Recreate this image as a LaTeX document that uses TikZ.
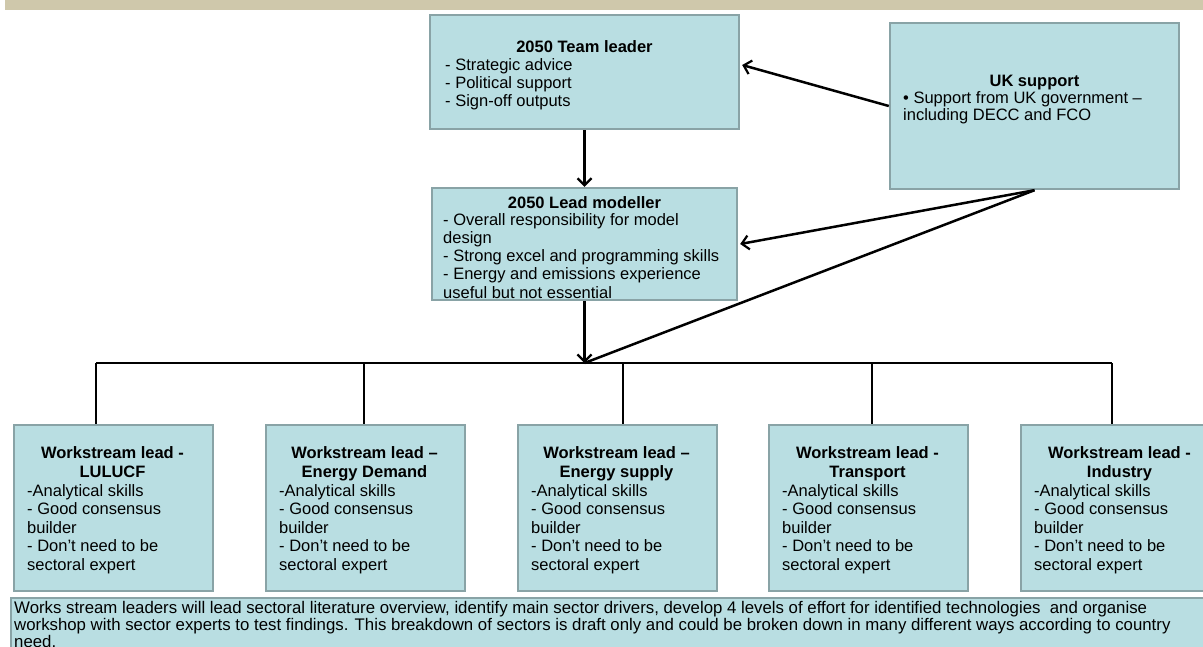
\documentclass[tikz,border=0pt]{standalone}
\usepackage{fontspec}
\setmainfont{Liberation Sans}
\usetikzlibrary{arrows.meta,calc}
\definecolor{boxfill}{RGB}{185,222,226}
\definecolor{boxline}{RGB}{137,163,166}
\definecolor{banner}{RGB}{207,200,171}
\begin{document}
\begin{tikzpicture}[x=1pt,y=-1pt,
  card/.style={draw=boxline, fill=boxfill, line width=2.4pt, rectangle, inner sep=0pt},
  head/.style={font=\bfseries\fontsize{16.5}{18.4}\selectfont, align=center, inner sep=0pt, anchor=base},
  body/.style={font=\fontsize{16.5}{#1}\selectfont, align=left, inner sep=0pt, anchor=base west},
  body/.default=18.4,
  link/.style={line width=2.8pt, black},
  thin link/.style={line width=2.5pt, black},
  tip/.style={-{Straight Barb[length=7pt,width=14pt,line width=2.2pt]}},
]
\fill[white] (0,0) rectangle (1203,646);
\clip (0,0) rectangle (1203,646);
\useasboundingbox (0,0) rectangle (1203,646);

% title banner
\fill[banner] (5,0) rectangle (1203,10);

% top level boxes (multi-line text nodes are placed by their last baseline)
\node[card, minimum width=309pt, minimum height=114pt] (lead) at (584.5,72) {};
\node[head] (leadT) at (584.5,52) {2050 Team leader};
\node[body=18] (leadB) at (445,106) {- Strategic advice\\- Political support\\- Sign-off outputs};

\node[card, minimum width=305pt, minimum height=112pt] (model) at (584.5,244) {};
\node[head] (modelT) at (584.5,208) {2050 Lead modeller};
\node[body=18.25] (modelB) at (443,298) {- Overall responsibility for model\\design\\- Strong excel and programming skills\\- Energy and emissions experience\\useful but not essential};

\node[card, minimum width=289pt, minimum height=166pt] (uk) at (1034.5,106) {};
\node[head] (ukT) at (1034.5,86) {UK support};
\node[body=17] (ukB) at (903,120) {• Support from UK government –\\including DECC and FCO};

% workstream boxes
\foreach \i/\xl/\ttl in {1/13/{Workstream lead -\\LULUCF},
                         2/265/{Workstream lead –\\Energy Demand},
                         3/517/{Workstream lead –\\Energy supply},
                         4/768/{Workstream lead -\\Transport},
                         5/1020/{Workstream lead -\\Industry}}{
  \node[card, anchor=north west, minimum width=199pt, minimum height=166pt] (ws\i) at (\xl,424) {};
  \node[head] (wsT\i) at (\xl+99.5,477) {\ttl};
  \node[body=18.5] (wsB\i) at (\xl+14,570) {-Analytical skills\\- Good consensus\\builder\\- Don’t need to be\\sectoral expert};
}

% note along the bottom
\node[card, anchor=north west, minimum width=1220pt, minimum height=110pt] (note) at (10,597) {};
\node[font=\fontsize{16.8}{17}\selectfont, align=left, inner sep=0pt, anchor=base west] (noteT) at (14,647)
  {Works stream leaders will lead sectoral literature overview, identify main sector drivers, develop 4 levels of effort for identified technologies\ \ and organise\\
   workshop with sector experts to test findings. This breakdown of sectors is draft only and could be broken down in many different ways according to country\\
   need.};

% connector bus
\coordinate (hub) at (584.5,363);
\coordinate (b1) at (96,363);
\coordinate (b2) at (364,363);
\coordinate (b3) at (623,363);
\coordinate (b4) at (872,363);
\coordinate (b5) at (1112,363);
\draw[link] (b1) -- (b5);
\foreach \i in {1,...,5}{
  \draw[link] (b\i) -- (b\i |- ws\i.north);
}

% arrows
\draw[link, tip] (lead.south) -- (model.north);
\draw[link, tip] (model.south) -- (hub);
\draw[thin link, tip] (uk.west) -- ([yshift=7pt,xshift=2pt]lead.east);
\draw[thin link, tip] (uk.south) -- ([xshift=2pt]model.east);
\draw[thin link] (uk.south) -- (hub);
\end{tikzpicture}
\end{document}
